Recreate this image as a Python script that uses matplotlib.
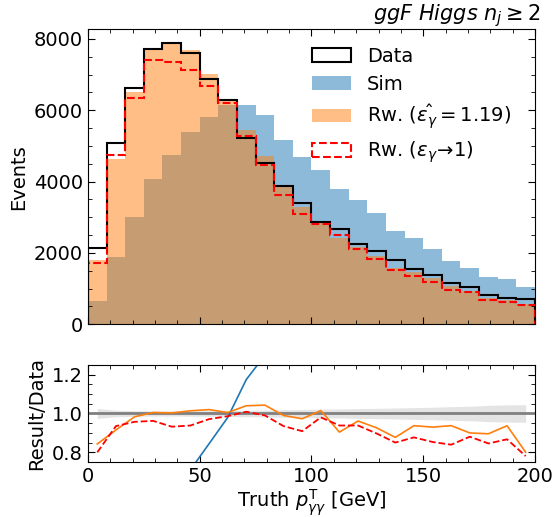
import matplotlib
matplotlib.use("Agg")
import matplotlib.pyplot as plt
from matplotlib.ticker import MultipleLocator
import numpy as np

# 24 bins of truth diphoton pT, 0-200 GeV
edges = np.linspace(0, 200, 25)
centers = 0.5 * (edges[:-1] + edges[1:])

data = [2148, 5075, 6634, 7710, 7879, 7598, 6887, 6280, 5233, 4514, 3887, 3393,
        2860, 2664, 2243, 2055, 1794, 1560, 1382, 1150, 1037, 822, 729, 701]
sim = [653, 1887, 3009, 4065, 4747, 5392, 5812, 6149, 6149, 5869, 5168, 4691,
       4327, 3794, 3485, 3130, 2607, 2420, 2103, 1766, 1579, 1326, 1270, 1046]
rw_fit = [1811, 4644, 6521, 7749, 7903, 7704, 7025, 6311, 5442, 4708, 3848, 3301,
          2903, 2408, 2156, 1903, 1573, 1462, 1285, 1078, 933, 736, 683, 561]
rw_one = [1718, 4745, 6349, 7417, 7343, 7127, 6687, 6192, 5280, 4469, 3634, 3084,
          2803, 2499, 2104, 1843, 1525, 1368, 1179, 965, 913, 695, 632, 547]

data = np.array(data, float)
sim = np.array(sim, float)
rw_fit = np.array(rw_fit, float)
rw_one = np.array(rw_one, float)

fig = plt.figure(figsize=(5.54, 5.17), dpi=100)
ax = fig.add_axes([0.1588, 0.3727, 0.8069, 0.5706])
rax = fig.add_axes([0.1588, 0.1064, 0.8069, 0.1876], sharex=ax)

ax.hist(centers, bins=edges, weights=sim, color="tab:blue", alpha=0.5, label="Sim")
ax.hist(centers, bins=edges, weights=rw_fit, color="tab:orange", alpha=0.5,
        label=r"Rw. ($\hat{\epsilon_\gamma} = 1.19$)")
ax.hist(centers, bins=edges, weights=data, histtype="step", color="black", lw=1.5,
        label="Data")
ax.hist(centers, bins=edges, weights=rw_one, histtype="step", color="red", ls="--",
        lw=1.5, label=r"Rw. ($\epsilon_\gamma\!\rightarrow\!1$)")

h, l = ax.get_legend_handles_labels()
order = [2, 0, 1, 3]
ax.legend([h[i] for i in order], [l[i] for i in order], loc="upper right",
          frameon=False, fontsize=14, labelspacing=0.45,
          bbox_to_anchor=(0.985, 1.0))

ax.set_xlim(0, 200)
ax.set_ylim(0, 8270)
ax.set_ylabel("Events", fontsize=14)
ax.text(1.011, 1.029, r"ggF Higgs $n_j \geq 2$", transform=ax.transAxes,
        ha="right", va="baseline", fontsize=15, style="italic")
ax.yaxis.set_major_locator(MultipleLocator(2000))
ax.yaxis.set_minor_locator(MultipleLocator(500))
ax.xaxis.set_major_locator(MultipleLocator(50))
ax.xaxis.set_minor_locator(MultipleLocator(10))
ax.tick_params(labelbottom=False)

# ratio panel
band = 1.2 / np.sqrt(data)
rax.fill_between(centers, 1 - band, 1 + band, color="lightgrey", alpha=0.6, lw=0)
rax.axhline(1.0, color="grey", lw=2)
rax.plot(centers, sim / data, color="tab:blue", lw=1.2)
rax.plot(centers, rw_fit / data, color="tab:orange", lw=1.2)
rax.plot(centers, rw_one / data, color="red", ls="--", lw=1.3)
rax.set_ylim(0.75, 1.25)
rax.yaxis.set_major_locator(MultipleLocator(0.2))
rax.yaxis.set_minor_locator(MultipleLocator(0.05))
rax.set_ylabel("Result/Data", fontsize=14)
rax.set_xlabel(r"Truth $p_{\gamma\gamma}^{\rm T}$ [GeV]", fontsize=14, labelpad=1)

for a in (ax, rax):
    a.tick_params(which="both", direction="in", top=True, right=True, labelsize=14)
    a.tick_params(which="major", length=5)
    a.tick_params(which="minor", length=3)

fig.savefig("out.png", dpi=100)
